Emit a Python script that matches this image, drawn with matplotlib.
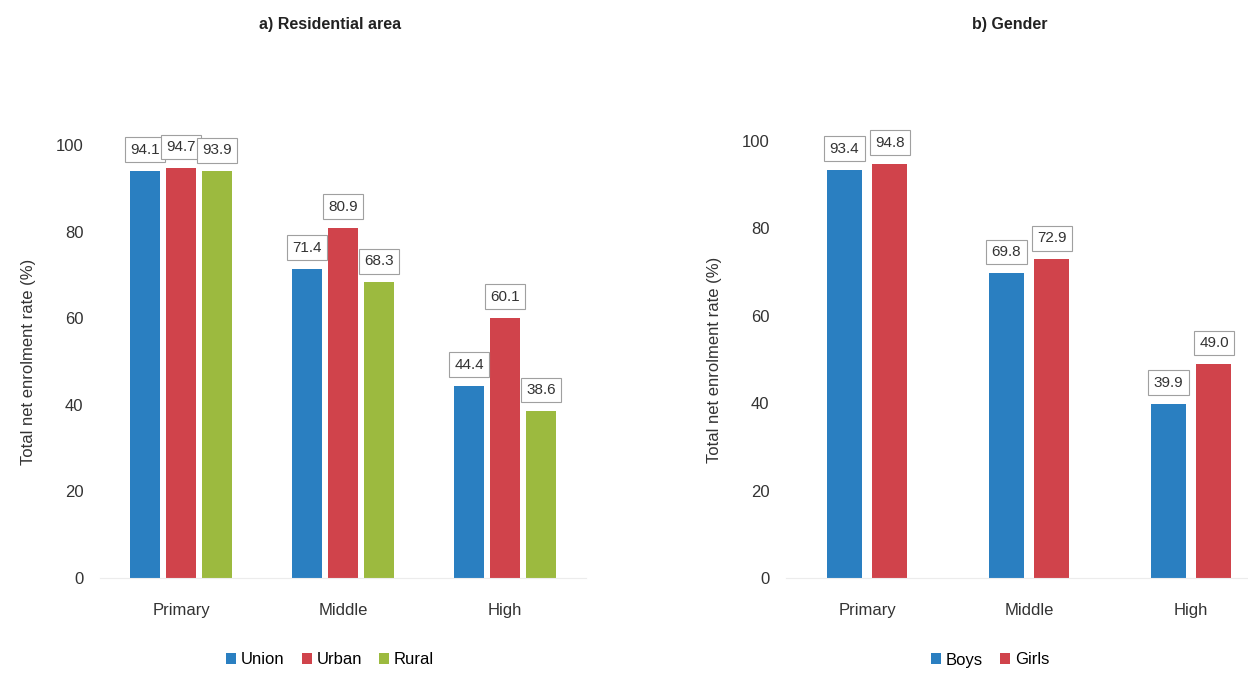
import matplotlib.pyplot as plt
import numpy as np

plt.rcParams['font.family'] = ['Liberation Sans Narrow', 'Liberation Sans', 'DejaVu Sans']

levels = ['Primary', 'Middle', 'High']
union = [94.1, 71.4, 44.4]
urban = [94.7, 80.9, 60.1]
rural = [93.9, 68.3, 38.6]
boys = [93.4, 69.8, 39.9]
girls = [94.8, 72.9, 49.0]

blue = '#2a7fc1'
red = '#d0434b'
green = '#9cba3f'

fig = plt.figure(figsize=(12.48, 6.73), dpi=100)
ax1 = fig.add_axes([100 / 1248, 1 - 578 / 673, 486 / 1248, 433 / 673])
ax2 = fig.add_axes([786 / 1248, 1 - 578 / 673, 462 / 1248, 437 / 673])

box = dict(boxstyle='square,pad=0.35', fc='white', ec='#a0a0a0', lw=0.8)


def label_bars(ax, bars):
    for b in bars:
        h = b.get_height()
        ax.annotate(f'{h:.1f}', (b.get_x() + b.get_width() / 2, h),
                    xytext=(0, 21), textcoords='offset pixels',
                    ha='center', va='center', fontsize=11, color='#333333',
                    bbox=box, annotation_clip=False)


x = np.arange(len(levels))
w1 = 0.18
p1 = 0.222
series1 = [(union, blue, 'Union'), (urban, red, 'Urban'), (rural, green, 'Rural')]
for i, (vals, col, name) in enumerate(series1):
    bars = ax1.bar(x + (i - 1) * p1, vals, w1, color=col, label=name)
    label_bars(ax1, bars)

w2 = 0.216
p2 = 0.28
series2 = [(boys, blue, 'Boys'), (girls, red, 'Girls')]
for i, (vals, col, name) in enumerate(series2):
    bars = ax2.bar(x + (i - 0.5) * p2, vals, w2, color=col, label=name)
    label_bars(ax2, bars)

ax1.set_xlim(-0.5, 2.5)
ax2.set_xlim(-0.5, 2.35)

for ax in (ax1, ax2):
    ax.set_ylim(0, 100)
    ax.set_yticks(range(0, 101, 20))
    ax.set_xticks(x)
    ax.set_xticklabels(levels)
    for s in ['top', 'right', 'left']:
        ax.spines[s].set_visible(False)
    ax.spines['bottom'].set_color('#ececec')
    ax.tick_params(axis='both', length=0, labelsize=12, colors='#333333')
    ax.tick_params(axis='x', pad=18)
    ax.tick_params(axis='y', pad=12)
    ax.set_ylabel('Total net enrolment rate (%)', fontsize=12, color='#333333', labelpad=14)

fig.text(330 / 1248, 1 - 24 / 673, 'a) Residential area', ha='center', va='center',
         fontsize=11.5, fontweight='bold', color='#222222')
fig.text(1010 / 1248, 1 - 24 / 673, 'b) Gender', ha='center', va='center',
         fontsize=11.5, fontweight='bold', color='#222222')

leg_kw = dict(loc='center', ncol=3, frameon=False, fontsize=12, handlelength=0.6,
              handleheight=0.6, handletextpad=0.3, columnspacing=1.0)
ax1.legend(bbox_to_anchor=(330 / 1248, 1 - 660 / 673), bbox_transform=fig.transFigure, **leg_kw)
ax2.legend(bbox_to_anchor=(990 / 1248, 1 - 660 / 673), bbox_transform=fig.transFigure, **leg_kw)

fig.savefig('out.png', dpi=100)
